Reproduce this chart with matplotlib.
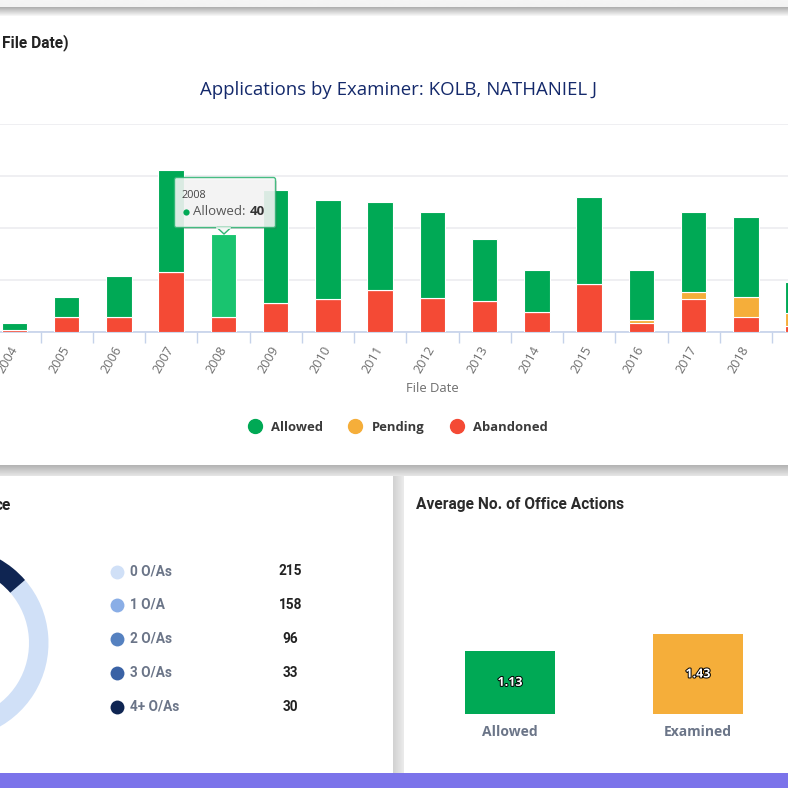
import numpy as np
import matplotlib
matplotlib.use('Agg')
import matplotlib.pyplot as plt
import matplotlib.patheffects as pe
from matplotlib.patches import FancyBboxPatch, Polygon, Rectangle
from matplotlib.lines import Line2D

W = 788
H = 788

# data
years = [2004, 2005, 2006, 2007, 2008, 2009, 2010, 2011, 2012, 2013, 2014, 2015, 2016, 2017, 2018, 2019]
abandoned = [1, 7, 7, 29, 7, 14, 16, 20, 16.5, 15, 9.5, 23, 4.5, 16, 7, 3]
pending = [0, 0, 0, 0, 0, 0, 0, 0, 0, 0, 0, 0, 1.5, 3, 10, 6]
allowed = [3.5, 10, 20, 49, 40, 54.5, 47.5, 42.3, 41.3, 29.5, 20.5, 42, 24, 38.8, 38.5, 15]

oa_labels = ['0 O/As', '1 O/A', '2 O/As', '3 O/As', '4+ O/As']
oa_values = [215, 158, 96, 33, 30]
oa_colors = ['#d0e0f7', '#8aaee6', '#5581c0', '#3a62a5', '#0f2552']

avg_labels = ['Allowed', 'Examined']
avg_values = [1.13, 1.43]

GREEN = '#00a955'
ORANGE = '#f5ae3a'
RED = '#f44a35'
GREY = '#6b7588'

fig = plt.figure(figsize=(W / 100, H / 100), dpi=100, facecolor='white')


def axes_px(x0, y0, x1, y1, **kw):
    return fig.add_axes([x0 / W, 1 - y1 / H, (x1 - x0) / W, (y1 - y0) / H], **kw)


# page background, shadows and cards
bg = axes_px(0, 0, W, H, zorder=0)
bg.axis('off')


def shade(ax, x0, y0, x1, y1, start, end, vertical=True):
    g = np.linspace(start, end, 24)
    g = g.reshape(-1, 1) if vertical else g.reshape(1, -1)
    ax.imshow(g, extent=(x0, x1, y1, y0), cmap='gray', vmin=0, vmax=1, aspect='auto', zorder=1)


shade(bg, 0, 0, W, 7, 0.96, 0.95)
shade(bg, 0, 7, W, 16, 0.68, 0.97)
shade(bg, 0, 465, W, 476, 0.70, 0.90)
shade(bg, 393, 476, 404, 773, 0.82, 0.92, vertical=False)
bg.set_xlim(0, W)
bg.set_ylim(H, 0)
bg.add_patch(Rectangle((0, 773), W, 15, fc='#7b73ea', ec='none', zorder=3))

# stacked bars, top card
ax = axes_px(0, 124, W, 332, zorder=2)
ax.patch.set_alpha(0)
px_year = 52.25
bar_w = 25.5 / px_year
bottoms = np.array(abandoned) + np.array(pending)
ax.bar(years, abandoned, width=bar_w, color=RED, edgecolor='white', linewidth=0.8, zorder=3)
ax.bar(years, pending, bottom=abandoned, width=bar_w, color=ORANGE, edgecolor='white', linewidth=0.8, zorder=3)
bars = ax.bar(years, allowed, bottom=bottoms, width=bar_w, color=GREEN, edgecolor='white', linewidth=0.8, zorder=3)
bars[years.index(2008)].set_facecolor('#19c46f')

ax.set_yticks([0, 25, 50, 75, 100])
ax.set_yticklabels([])
ax.grid(axis='y', color='#ececf0', linewidth=1.2, zorder=0)
ax.tick_params(axis='y', length=0)
for s in ['top', 'left', 'right']:
    ax.spines[s].set_visible(False)
ax.spines['bottom'].set_color('#c5d2ea')
ax.spines['bottom'].set_linewidth(1.2)
ax.set_xticks(years)
ax.set_xticklabels(years, rotation=60, ha='right', va='center', rotation_mode='anchor',
                   family='Open Sans', fontsize=9.2, color='#6e6e6e')
ax.tick_params(axis='x', length=0, pad=11)
ax.set_xticks(np.array(years) + 0.5, minor=True)
ax.tick_params(axis='x', which='minor', length=8, width=1, color='#c5d2ea')
# limits go last, set_xticks widens them
ax.set_xlim(2008 - 223.4 / px_year, 2008 + (W - 223.4) / px_year)
ax.set_ylim(0, 100)
ax.set_xlabel('File Date', family='Open Sans', fontsize=9.4, color='#6e6e6e', labelpad=0)
ax.xaxis.set_label_coords(432 / W, -50 / 208, transform=ax.transAxes)

handles = [Line2D([], [], ls='none', marker='o', ms=10, color=c) for c in [GREEN, ORANGE, RED]]
ax.legend(handles, ['Allowed', 'Pending', 'Abandoned'], ncol=3, frameon=False,
          loc='center', bbox_to_anchor=(394.8 / W, -95 / 208), handletextpad=0.25, columnspacing=1.48,
          prop={'family': 'Open Sans', 'weight': 'bold', 'size': 9.4}, labelcolor='#3a3a3a')

# donut, bottom left card
donut = axes_px(-47.7 - 96.2, 643 - 96.2, -47.7 + 96.2, 643 + 96.2, zorder=2)
start = 40.9
donut.pie(oa_values, colors=oa_colors, startangle=start, counterclock=False, radius=1,
          wedgeprops={'width': 19.5 / 96.2, 'linewidth': 0})
donut.set_xlim(-1, 1)
donut.set_ylim(-1, 1)

# average bars, bottom right card
ax2 = axes_px(404, 534, W, 714, zorder=2)
ax2.patch.set_alpha(0)
ax2.bar(range(2), avg_values, width=90 / 188, color=[GREEN, ORANGE])
for i, v in enumerate(avg_values):
    ax2.text(i, v / 2, '%.2f' % v, ha='center', va='center', color='white', family='Open Sans',
             weight='bold', fontsize=9,
             path_effects=[pe.withStroke(linewidth=1.4, foreground='black')])
ax2.set_xticks(range(2))
ax2.set_xticklabels(avg_labels, family='Open Sans', weight='bold', fontsize=10, color=GREY)
ax2.tick_params(axis='x', length=0, pad=8)
ax2.set_yticks([])
ax2.set_xlim((404 - 510) / 188, (W - 510) / 188)
ax2.set_ylim(0, 180 / 56)
for s in ax2.spines.values():
    s.set_visible(False)

# everything on top: headers, tooltip, donut legend
top = axes_px(0, 0, W, H, zorder=5)
top.patch.set_alpha(0)

head = {'family': 'Roboto', 'weight': 'bold', 'fontsize': 11.2}
top.text(69, 42.5, 'File Date)', ha='right', va='center', color='#222222', **head)
top.text(399, 90, 'Applications by Examiner: KOLB, NATHANIEL J', ha='center', va='center',
         family='Open Sans', fontsize=13.45, color='#14296b')
top.text(11, 505, 'ce', ha='right', va='center', color='#222222', **head)
top.text(416, 504.5, 'Average No. of Office Actions', ha='left', va='center', color='#2b2b2b', **head)

for i, (lab, val, col) in enumerate(zip(oa_labels, oa_values, oa_colors)):
    y = 571.5 + i * 33.9
    top.plot([117], [y], marker='o', ms=10, color=col, mew=0, ls='none')
    top.text(130, y - 0.5, lab, ha='left', va='center', family='Roboto', weight='bold', fontsize=9.8, color=GREY)
    top.text(290.5, y - 0.5, str(val), ha='center', va='center', family='Roboto', weight='bold', fontsize=9.8, color='#222222')

# tooltip for 2008
top.add_patch(FancyBboxPatch((177, 180), 100, 49, boxstyle='round,pad=0,rounding_size=2', fc='#555555',
                             ec='none', alpha=0.22, zorder=6))
top.add_patch(FancyBboxPatch((174.5, 177.5), 101, 50, boxstyle='round,pad=0,rounding_size=2', fc='#f7f7f7',
                             ec='#2fb573', lw=1, alpha=0.88, zorder=7))
top.add_patch(Polygon([(217, 227.5), (224, 234), (231, 227.5)], closed=True, fc='#f7f7f7', ec='#2fb573', lw=1, zorder=7))
top.plot([217.5, 230.5], [227.5, 227.5], color='#f7f7f7', lw=1.2, zorder=8)
top.text(182, 195, '2008', ha='left', va='center', family='Open Sans', fontsize=7.8, color='#444444', zorder=9)
top.plot([186], [212], marker='o', ms=4.5, color=GREEN, mew=0, ls='none', zorder=9)
top.text(193.5, 211.5, 'Allowed:', ha='left', va='center', family='Open Sans', fontsize=9.5, color='#555555', zorder=9)
top.text(250, 211.5, '40', ha='left', va='center', family='Open Sans', weight='bold', fontsize=9.5, color='#333333', zorder=9)

top.set_xlim(0, W)
top.set_ylim(H, 0)
top.axis('off')

fig.savefig('out.png', dpi=100)
